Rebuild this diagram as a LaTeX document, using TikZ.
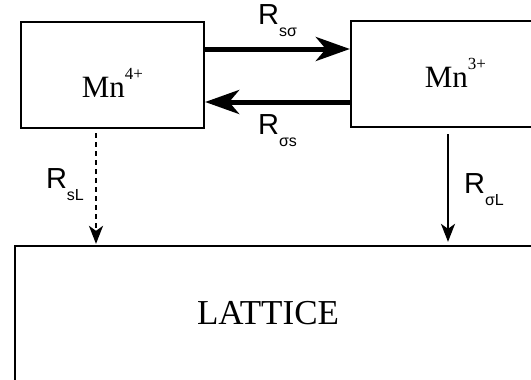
\documentclass[tikz,border=0pt]{standalone}
\usepackage{fontspec}
\setmainfont{Liberation Serif}
\setsansfont{Liberation Sans}
\usetikzlibrary{arrows.meta,positioning}

\newcommand{\mnion}[1]{Mn\raisebox{18pt}{\fontsize{17}{17}\selectfont #1}}
\newcommand{\rate}[1]{R\raisebox{-12pt}{\fontsize{16}{16}\selectfont #1}}

\tikzset{
  ionbox/.style={draw, line width=2.3pt, inner sep=0pt, minimum height=106pt,
    font=\fontsize{31}{34}\selectfont, text depth=0pt},
  bigarrow/.style={line width=5pt, -{Stealth[length=34pt,width=24pt,inset=10pt]}},
  thinarrow/.style={line width=2.3pt, -{Stealth[length=18pt,width=14pt,inset=5pt]}},
  dashline/.style={dash pattern=on 5pt off 4pt},
  ratelbl/.style={inner sep=0pt, font=\sffamily\fontsize{29}{31}\selectfont},
}

\begin{document}
\begin{tikzpicture}[x=1pt,y=-1pt]
\useasboundingbox (0,0) rectangle (531,380);
\clip (0,0) rectangle (531,380);

\node[ionbox, minimum width=183pt, text height=44pt] (mnfour) at (112.5,75) {\mnion{4+}};
\node[ionbox, minimum width=209pt, text height=26pt] (mnthree) at (455.5,74) {\mnion{3+}};
\node[draw, line width=2.3pt, minimum width=585pt, minimum height=174pt] (lattice) at (307.5,333) {};
\node[font=\fontsize{35}{40}\selectfont] (lattlabel) at (268,313.5) {LATTICE};

% transfer between the two ions
\draw[bigarrow] ([yshift=26pt]mnfour.east) -- ([yshift=26pt]mnfour.east -| mnthree.west)
  node[ratelbl, midway, above=10pt] (rsf) {\rate{sσ}};
\draw[bigarrow] ([yshift=-27pt]mnfour.east -| mnthree.west) -- ([yshift=-27pt]mnfour.east)
  node[ratelbl, midway, below=10pt] (rfs) {\rate{σs}};

% relaxation to the lattice
\coordinate (stop) at ([xshift=-16.5pt,yshift=-4pt]mnfour.south);
\coordinate (sbot) at (stop |- lattice.north);
\coordinate (ftop) at ([xshift=-7.5pt,yshift=-6pt]mnthree.south);
\coordinate (fbot) at (ftop |- lattice.north);
\draw[thinarrow, dashline, shorten >=1pt] (stop) -- (sbot)
  node[ratelbl, pos=.46, left=11pt] (rsl) {\rate{sL}};
\draw[thinarrow, shorten >=3pt] (ftop) -- (fbot)
  node[ratelbl, midway, right=15pt] (rfl) {\rate{σL}};
\end{tikzpicture}
\end{document}
